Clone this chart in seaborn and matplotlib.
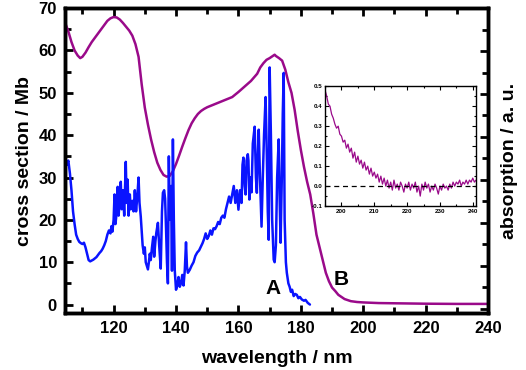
import numpy as np
import matplotlib
matplotlib.use("Agg")
import matplotlib.pyplot as plt
from matplotlib.ticker import MultipleLocator, NullFormatter
import seaborn as sns

# --- data ------------------------------------------------------------------
# B: broad absorption curve (purple), wavelength in nm, cross section in Mb
wl_b = [104.5, 105.5, 106.5, 107.5, 108.5, 109.3, 110, 111, 112, 113, 114, 115,
        116, 117, 118, 119, 120, 121, 122, 123, 124, 125, 126, 127, 128, 129,
        130, 131, 132, 133, 134, 135, 136, 137, 138, 139, 140, 141, 142, 143,
        144, 145, 146, 147, 148, 149, 150, 152, 154, 156, 158, 160, 162, 164,
        166, 167, 168, 169, 170, 171, 171.6, 172, 173, 174, 175, 176, 177, 178,
        179, 180, 181, 182, 183, 184, 185, 186, 187, 188, 189, 190, 191, 192,
        194, 196, 198, 200, 205, 210, 220, 230, 240]
xs_b = [66.5, 64.5, 62.0, 60.0, 58.8, 58.2, 58.5, 59.5, 60.8, 62.0, 63.0, 64.0,
        65.0, 66.0, 67.0, 67.6, 67.9, 67.8, 67.3, 66.5, 65.6, 64.7, 63.5, 61.5,
        58.5, 52.0, 46.5, 42.5, 39.0, 36.0, 33.5, 31.8, 30.6, 30.2, 30.4, 31.5,
        33.2, 35.2, 37.3, 39.3, 41.2, 42.8, 44.0, 45.0, 45.7, 46.2, 46.6, 47.2,
        47.8, 48.4, 49.0, 50.2, 51.5, 52.8, 54.5, 56.0, 57.0, 57.8, 58.2, 58.7,
        59.0, 58.7, 58.2, 57.6, 55.5, 52.5, 50.0, 46.0, 41.0, 36.5, 32.5, 29.0,
        26.0, 21.5, 16.5, 13.5, 10.5, 7.5, 5.5, 4.0, 3.2, 2.3, 1.3, 0.8, 0.6,
        0.5, 0.35, 0.3, 0.2, 0.15, 0.15]

# A: structured spectrum (blue)
wl_a = [104.5, 105, 105.5, 106, 106.5, 107, 107.5, 108, 108.5, 109, 109.5, 110,
        110.5, 111, 111.5, 112, 112.5, 113, 113.5, 114, 114.5, 115, 115.5, 116,
        116.5, 117, 117.5, 118, 118.5, 119, 119.3, 119.6, 120, 120.3, 120.6,
        121, 121.3, 121.6, 122, 122.3, 122.6, 123, 123.4, 123.9, 124.2, 124.5,
        124.8, 125.2, 125.5, 126, 126.4, 126.8, 127.2, 127.6, 128, 128.3, 128.7,
        129, 129.3, 129.7, 130, 130.3, 130.7, 131, 131.3, 131.6, 131.9, 132.3,
        132.7, 133, 133.4, 133.7, 134.2, 134.6, 135.1, 135.5, 135.8, 136.2,
        136.5, 136.8, 137.1, 137.4, 137.7, 138, 138.4, 138.7, 139, 139.3, 139.6,
        140, 140.4, 140.8, 141.2, 141.6, 142, 142.4, 142.8, 143.2, 143.5, 143.8,
        144.4, 145, 145.6, 146.2, 146.8, 147.4, 148, 148.5, 149, 149.5, 150,
        150.5, 151, 151.5, 152, 152.5, 153, 153.5, 154, 154.5, 155, 155.5, 156,
        156.5, 157, 157.5, 158, 158.5, 159, 159.5, 160, 160.5, 161, 161.3, 161.6,
        162, 162.3, 162.6, 163, 163.2, 163.5, 163.9, 164.2, 164.6, 165.2, 165.6,
        165.9, 166.2, 166.5, 166.9, 167.4, 167.8, 168.2, 168.7, 169.1, 169.4,
        169.7, 170, 170.4, 170.8, 171.3, 171.6, 172, 172.4, 172.9, 173.2, 173.5,
        173.9, 174.2, 174.5, 174.8, 175.2, 175.5, 176, 176.4, 176.8, 177.2,
        177.7, 178.2, 178.7, 179.2, 179.7, 180.3, 181, 181.5, 182.2, 182.9]
xs_a = [34.5, 33.0, 34.0, 31.0, 27.0, 22.0, 19.0, 16.5, 15.5, 14.8, 14.5, 14.3,
        14.6, 13.5, 12.0, 10.5, 10.2, 10.4, 10.6, 10.9, 11.2, 11.7, 12.2, 12.6,
        13.2, 14.0, 15.0, 16.5, 17.5, 16.8, 18.5, 17.2, 20.0, 26.0, 19.0, 22.0,
        27.8, 21.0, 25.0, 29.0, 22.5, 27.0, 21.0, 33.7, 24.0, 29.5, 21.0, 26.0,
        22.5, 24.5, 22.0, 27.0, 22.0, 25.5, 30.0, 24.0, 20.8, 17.5, 14.0, 12.0,
        13.5, 10.0, 9.0, 8.3, 10.0, 12.0, 10.5, 13.5, 16.0, 11.3, 15.0, 17.0,
        19.3, 14.0, 8.5, 22.0, 26.4, 27.0, 25.0, 18.0, 10.0, 5.0, 35.0, 20.0,
        28.0, 8.0, 39.0, 20.0, 8.0, 3.5, 4.5, 6.5, 4.2, 5.0, 7.0, 4.5, 8.0, 14.7,
        9.0, 7.5, 8.2, 9.2, 10.0, 11.5, 12.3, 12.8, 13.7, 14.5, 15.5, 16.8, 15.5,
        16.2, 17.5, 16.5, 18.0, 17.8, 18.5, 19.5, 19.0, 20.5, 21.0, 20.5, 22.5,
        24.0, 25.5, 24.0, 26.0, 28.0, 24.0, 27.0, 22.4, 27.0, 24.0, 33.0, 34.7,
        28.0, 26.0, 34.0, 35.5, 34.0, 24.8, 30.0, 26.5, 38.0, 42.0, 30.0, 26.4,
        35.0, 41.3, 30.0, 18.4, 30.0, 40.0, 49.0, 35.0, 22.0, 15.3, 56.0, 40.0,
        20.0, 10.6, 10.0, 14.0, 30.0, 39.0, 25.0, 14.6, 30.0, 45.0, 54.7, 20.0,
        10.0, 7.5, 5.0, 4.2, 3.0, 3.5, 2.0, 2.5, 2.3, 1.5, 1.8, 1.2, 0.9, 1.1,
        0.4, 0.0]

# inset: absorption (a.u.) of the long-wavelength tail
wl_in = [195.0, 195.5, 196.0, 196.5, 197.0, 197.5, 198.0, 198.5, 199.0, 199.5,
         200.0, 200.5, 201.0, 201.5, 202.0, 202.5, 203.0, 203.5, 204.0, 204.5,
         205.0, 205.5, 206.0, 206.5, 207.0, 207.5, 208.0, 208.5, 209.0, 209.5,
         210.0, 210.5, 211.0, 211.5, 212.0, 212.5, 213.0, 213.5, 214.0, 214.5,
         215.0, 215.5, 216.0, 216.5, 217.0, 217.5, 218.0, 218.5, 219.0, 219.5,
         220.0, 220.5, 221.0, 221.5, 222.0, 222.5, 223.0, 223.5, 224.0, 224.5,
         225.0, 225.5, 226.0, 226.5, 227.0, 227.5, 228.0, 228.5, 229.0, 229.5,
         230.0, 230.5, 231.0, 231.5, 232.0, 232.5, 233.0, 233.5, 234.0, 234.5,
         235.0, 235.5, 236.0, 236.5, 237.0, 237.5, 238.0, 238.5, 239.0, 239.5,
         240.0, 240.5, 241.0]
abs_in = [0.48, 0.45, 0.41, 0.40, 0.36, 0.34, 0.31, 0.29, 0.30, 0.26, 0.25,
          0.22, 0.23, 0.19, 0.21, 0.17, 0.19, 0.14, 0.17, 0.12, 0.15, 0.11,
          0.13, 0.09, 0.12, 0.08, 0.10, 0.06, 0.09, 0.05, 0.07, 0.04, 0.06,
          0.02, 0.05, 0.01, 0.04, 0.00, 0.03, -0.01, 0.02, -0.02, 0.03, -0.01,
          0.01, -0.02, 0.02, 0.00, -0.03, 0.01, -0.01, 0.02, -0.02, 0.01, -0.01,
          0.02, -0.03, 0.00, -0.05, 0.01, -0.02, 0.02, -0.01, 0.01, -0.03, 0.00,
          -0.02, 0.01, -0.01, -0.04, 0.00, -0.02, 0.01, -0.01, 0.00, -0.02, 0.01,
          -0.01, 0.02, 0.00, 0.02, 0.01, 0.03, 0.00, 0.02, 0.01, 0.03, 0.01,
          0.03, 0.02, 0.04, 0.02, 0.03]

PURPLE = "#9a0a8a"
BLUE = "#0a14ff"

sns.set_theme(style="ticks")
plt.rcParams["font.family"] = ["Liberation Sans", "DejaVu Sans"]
plt.rcParams["font.weight"] = "bold"
for key in ["text.color", "axes.labelcolor", "xtick.color", "ytick.color",
            "axes.edgecolor"]:
    plt.rcParams[key] = "black"

fig = plt.figure(figsize=(5.26, 3.70), dpi=100)
ax = fig.add_axes([0.124, 0.154, 0.804, 0.824])

sns.lineplot(x=wl_b, y=xs_b, ax=ax, color=PURPLE, lw=1.8, sort=False, estimator=None)
sns.lineplot(x=wl_a, y=xs_a, ax=ax, color=BLUE, lw=1.8, sort=False, estimator=None)

ax.set_xlim(104.5, 240)
ax.set_ylim(-2, 70)
ax.xaxis.set_major_locator(MultipleLocator(20))
ax.xaxis.set_minor_locator(MultipleLocator(10))
ax.yaxis.set_major_locator(MultipleLocator(10))
ax.yaxis.set_minor_locator(MultipleLocator(5))
ax.tick_params(which="both", direction="in", top=True, width=2, labelsize=12,
               pad=6, colors="black")
ax.tick_params(which="major", length=6)
ax.tick_params(which="minor", length=4)
ax.tick_params(axis="y", which="both", right=False)
for lab in ax.get_xticklabels() + ax.get_yticklabels():
    lab.set_fontweight("bold")
for s in ax.spines.values():
    s.set_linewidth(2.5)
ax.set_xlabel("wavelength / nm", fontsize=14, fontweight="bold", labelpad=10)
ax.set_ylabel("cross section / Mb", fontsize=14, fontweight="bold", labelpad=4)

ax.text(171.2, 3.8, "A", fontsize=15, fontweight="bold", ha="center", va="center")
ax.text(192.8, 5.9, "B", fontsize=15, fontweight="bold", ha="center", va="center")

# right axis: ticks only
ax2 = ax.twinx()
ax2.set_ylim(-0.1, 7.0)
ax2.yaxis.set_major_locator(MultipleLocator(1.0))
ax2.yaxis.set_minor_locator(MultipleLocator(0.5))
ax2.yaxis.set_major_formatter(NullFormatter())
ax2.tick_params(which="both", direction="in", width=2, colors="black")
ax2.tick_params(which="major", length=6)
ax2.tick_params(which="minor", length=4)
for s in ax2.spines.values():
    s.set_linewidth(2.5)
ax2.set_ylabel("absorption / a. u.", fontsize=14, fontweight="bold", labelpad=6)

# inset
axi = fig.add_axes([0.618, 0.443, 0.287, 0.324])
sns.lineplot(x=wl_in, y=abs_in, ax=axi, color=PURPLE, lw=0.9, sort=False, estimator=None)
axi.axhline(0, color="black", lw=0.9, ls=(0, (4, 3)))
axi.set_xlim(195, 241)
axi.set_ylim(-0.1, 0.5)
axi.xaxis.set_major_locator(MultipleLocator(10))
axi.xaxis.set_minor_locator(MultipleLocator(5))
axi.yaxis.set_minor_locator(MultipleLocator(0.05))
axi.tick_params(which="both", direction="in", top=True, right=True, width=0.8,
                labelsize=4.5, pad=2, colors="black")
axi.tick_params(which="major", length=3)
axi.tick_params(which="minor", length=1.5)
axi.set_yticks([-0.1, 0.0, 0.1, 0.2, 0.3, 0.4, 0.5])
axi.set_yticklabels(["-0.1", "0.0", "0.1", "0.2", "0.3", "0.4", "0.5"])
for s in axi.spines.values():
    s.set_linewidth(1.0)
axi.set_xlabel("")
axi.set_ylabel("")

fig.savefig("out.png", dpi=100)
